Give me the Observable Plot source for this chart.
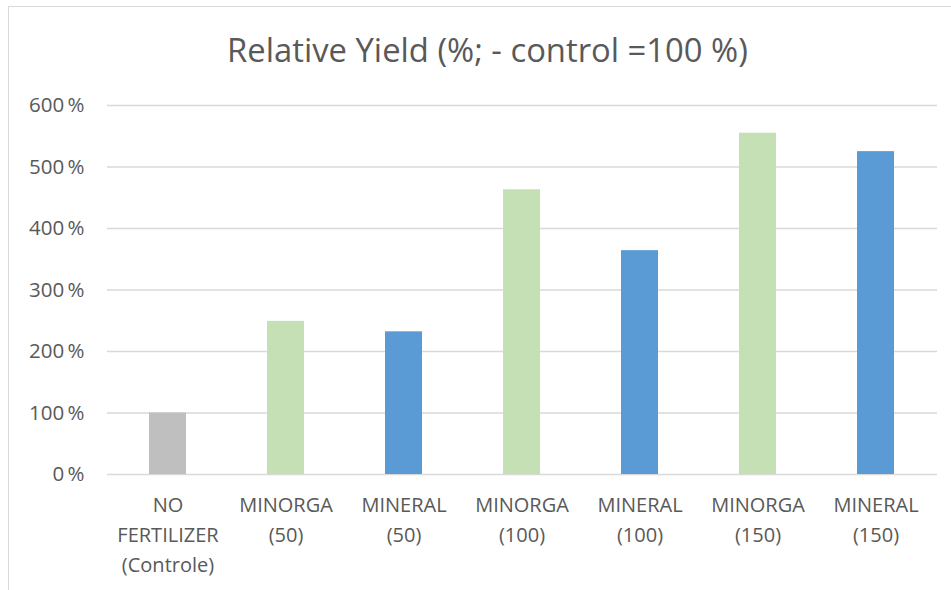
<!DOCTYPE html>
<html>
<head>
<meta charset="utf-8">
<script src="https://cdn.jsdelivr.net/npm/d3@7"></script>
<script src="https://cdn.jsdelivr.net/npm/@observablehq/plot@0.6"></script>
<style>
  html, body { margin: 0; padding: 0; background: #fff; }
  #wrap { position: relative; width: 951px; height: 590px; overflow: hidden; font-family: "Open Sans", sans-serif; }
  #frame { position: absolute; left: 8px; top: 6px; width: 1000px; height: 700px; border-left: 1.5px solid #d9d9d9; border-top: 1.5px solid #d9d9d9; }
  #title { position: absolute; left: 8px; width: 959px; top: 28px; text-align: center; font-size: 32.8px; color: #595959; line-height: 44px; }
  #chart { position: absolute; left: 0; top: 0; }
</style>
</head>
<body>
<div id="wrap">
  <div id="frame"></div>
  <div id="chart"></div>
  <div id="title">Relative Yield (%; - control =100 %)</div>
</div>
<script>
const categories = ["NO FERTILIZER (Controle)", "MINORGA (50)", "MINERAL (50)", "MINORGA (100)", "MINERAL (100)", "MINORGA (150)", "MINERAL (150)"];
const tickLabels = ["NO\nFERTILIZER\n(Controle)", "MINORGA\n(50)", "MINERAL\n(50)", "MINORGA\n(100)", "MINERAL\n(100)", "MINORGA\n(150)", "MINERAL\n(150)"];
const groups = ["control", "minorga", "mineral", "minorga", "mineral", "minorga", "mineral"];
const values = [100, 249, 232, 463, 364, 555, 525];
const yTicks = [0, 100, 200, 300, 400, 500, 600];
const groupDomain = ["control", "minorga", "mineral"];
const groupColors = ["#bfbfbf", "#c5e0b4", "#5b9bd5"];

const data = categories.map((c, i) => ({category: c, label: tickLabels[i], group: groups[i], value: values[i]}));

const plot = Plot.plot({
  width: 951,
  height: 590,
  marginLeft: 107,
  marginRight: 14,
  marginTop: 105,
  marginBottom: 116,
  style: {fontFamily: "Open Sans, sans-serif", color: "#595959", background: "transparent"},
  x: {domain: categories, paddingInner: 0.684, paddingOuter: 0.342, axis: null},
  y: {domain: [0, 600], axis: null},
  color: {domain: groupDomain, range: groupColors},
  marks: [
    Plot.ruleY(yTicks, {stroke: "#d9d9d9", strokeWidth: 1.5}),
    Plot.barY(data, {x: "category", y: "value", fill: "group"}),
    Plot.text(yTicks, {y: d => d, text: d => d + "\u2009%", frameAnchor: "left", textAnchor: "end", dx: -23, fontSize: 20.5, fill: "#595959"}),
    Plot.text(data, {x: "category", text: "label", frameAnchor: "bottom", lineAnchor: "top", dy: 16, lineHeight: 1.5, fontSize: 20, fill: "#595959"})
  ]
});
document.getElementById("chart").appendChild(plot);
</script>
</body>
</html>
